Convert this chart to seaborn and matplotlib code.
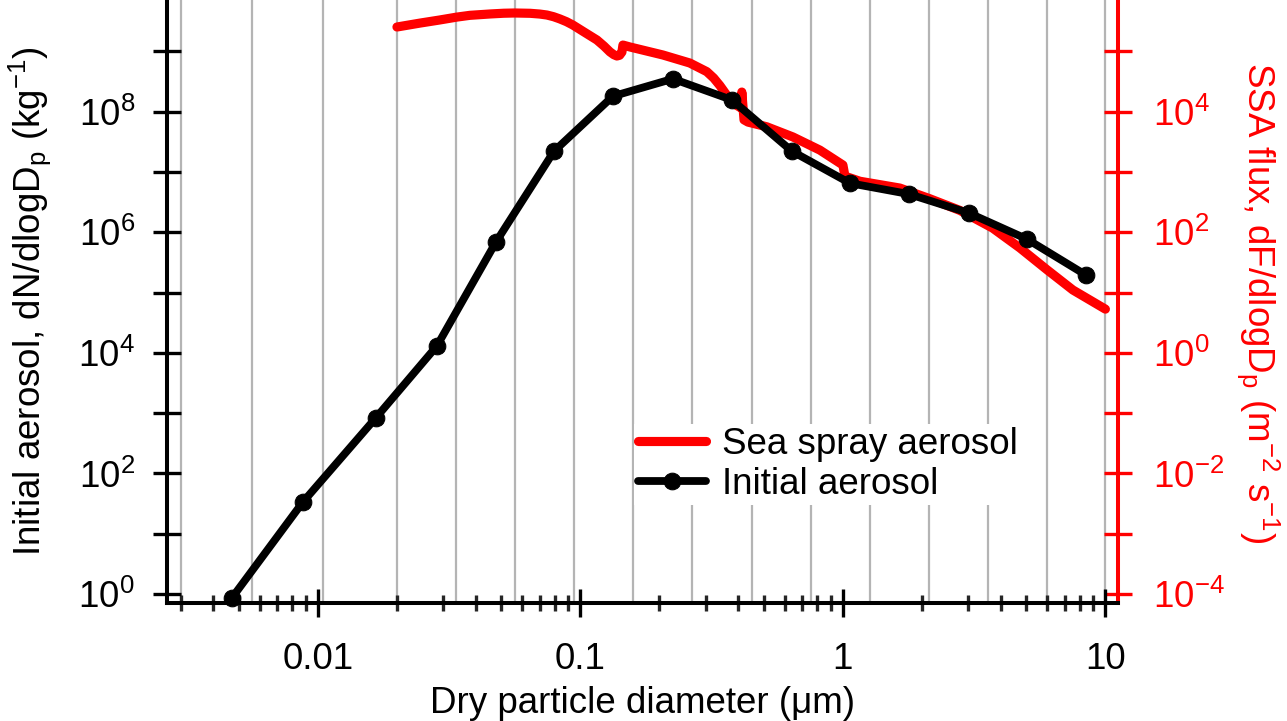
import pandas as pd
import seaborn as sns
import matplotlib.pyplot as plt
from matplotlib.ticker import LogLocator, NullFormatter, FixedLocator, FixedFormatter

# Initial aerosol size distribution (left axis)
init_diam = [0.0047, 0.00877, 0.0166, 0.0284, 0.0477, 0.0793, 0.133, 0.225,
             0.378, 0.640, 1.064, 1.78, 3.02, 5.02, 8.43]
init_conc = [0.86, 33.6, 830, 1.3e4, 6.9e5, 2.2e7, 1.8e8, 3.5e8,
             1.56e8, 2.2e7, 6.5e6, 4.3e6, 2.08e6, 7.7e5, 1.95e5]

# Sea spray aerosol flux (right axis)
ssa_diam = [0.0200, 0.0245, 0.0290, 0.0339, 0.0379, 0.0452, 0.0510, 0.0562,
            0.0644, 0.0700, 0.0745, 0.0790, 0.0834, 0.0885, 0.0936, 0.104,
            0.1156, 0.1230, 0.1295, 0.1340, 0.1377, 0.1410, 0.1439,
            0.1452, 0.1544, 0.206, 0.261, 0.303, 0.322, 0.340, 0.365, 0.388, 0.409,
            0.412, 0.420, 0.435, 0.513, 0.645, 0.817, 1.0, 1.018, 1.161,
            1.648, 2.14, 2.79, 3.72, 4.72, 5.98, 7.52, 10.0]
ssa_flux = [2.53e5, 2.94e5, 3.3e5, 3.70e5, 3.95e5, 4.16e5, 4.28e5, 4.32e5,
            4.27e5, 4.15e5, 4.0e5, 3.75e5, 3.45e5, 3.1e5, 2.73e5, 2.05e5,
            1.54e5, 1.22e5, 9.8e4, 8.8e4, 8.36e4, 8.6e4, 9.7e4,
            1.27e5, 1.18e5, 8.7e4, 6.4e4, 4.6e4, 3.6e4, 2.7e4, 1.75e4, 1.32e4, 1.15e4,
            2.11e4, 7.3e3, 6.7e3, 5.6e3, 3.8e3, 2.3e3, 1.3e3, 8.5e2, 7.0e2,
            5.4e2, 3.6e2, 2.3e2, 1.17e2, 55, 24, 11, 5.3]

# vertical grid lines (size bin edges)
grid_diam = [0.003, 0.0056, 0.0105, 0.02, 0.0336, 0.0564, 0.0947, 0.159,
             0.267, 0.449, 0.754, 1.27, 2.13, 3.57, 5.99, 10.0]

x_ticks = [0.01, 0.1, 1, 10]
x_ticklabels = ['0.01', '0.1', '1', '10']
left_major = [1e0, 1e2, 1e4, 1e6, 1e8]
left_minor = [1e1, 1e3, 1e5, 1e7, 1e9]
left_labels = [r'$\mathregular{10^{%d}}$' % p for p in [0, 2, 4, 6, 8]]
right_major = [1e-4, 1e-2, 1e0, 1e2, 1e4]
right_minor = [1e-3, 1e-1, 1e1, 1e3, 1e5]
right_labels = [r'$\mathregular{10^{%d}}$' % p for p in [-4, -2, 0, 2, 4]]

init_df = pd.DataFrame({'diam': init_diam, 'conc': init_conc})
ssa_df = pd.DataFrame({'diam': ssa_diam, 'flux': ssa_flux})

sns.set_theme(style='white')
plt.rcParams['font.family'] = ['Liberation Sans', 'DejaVu Sans']
plt.rcParams['mathtext.fontset'] = 'custom'
plt.rcParams['mathtext.rm'] = 'Liberation Sans'
plt.rcParams['mathtext.it'] = 'Liberation Sans:italic'
plt.rcParams['text.color'] = 'black'
plt.rcParams['axes.labelcolor'] = 'black'

fs = 26.5
red = '#ff0000'

fig = plt.figure(figsize=(12.87, 7.21), dpi=100)
ax = fig.add_axes([167 / 1287, 118 / 721, 951 / 1287, 603 / 721])
ax.set_xscale('log')
ax.set_yscale('log')
ax2 = ax.twinx()
ax2.set_yscale('log')

# grid + red curve on the back axes
for g in grid_diam:
    ax2.axvline(g, color='#b4b4b4', lw=1.6, zorder=0)
sns.lineplot(data=ssa_df, x='diam', y='flux', ax=ax2, color=red, lw=6.6,
             sort=False, estimator=None, legend=False, label='Sea spray aerosol',
             solid_joinstyle='round', zorder=2)

# black curve on the front axes
sns.lineplot(data=init_df, x='diam', y='conc', ax=ax, color='black', lw=5.6,
             marker='o', markersize=12, markeredgecolor='black',
             sort=False, estimator=None, legend=False, label='Initial aerosol',
             clip_on=False, zorder=3)

ax.set_zorder(ax2.get_zorder() + 1)
ax.patch.set_visible(False)

ax.set_xlim(10 ** -2.575, 10 ** 1.048)
ylo, yhi = 10 ** -0.149, 10 ** 9.851
ax.set_ylim(ylo, yhi)
ax2.set_ylim(ylo * 1e-4, yhi * 1e-4)

# x axis
ax.xaxis.set_major_locator(FixedLocator(x_ticks))
ax.xaxis.set_major_formatter(FixedFormatter(x_ticklabels))
ax.xaxis.set_minor_locator(LogLocator(base=10, subs=[2, 3, 4, 5, 6, 7, 8, 9], numticks=20))
ax.xaxis.set_minor_formatter(NullFormatter())
ax.tick_params(axis='x', which='major', direction='inout', length=20, width=2.4,
               pad=18, labelsize=fs, colors='black', bottom=True)
ax.tick_params(axis='x', which='minor', direction='inout', length=12, width=2.4,
               bottom=True)

# left y axis
ax.yaxis.set_major_locator(FixedLocator(left_major))
ax.yaxis.set_major_formatter(FixedFormatter(left_labels))
ax.yaxis.set_minor_locator(FixedLocator(left_minor))
ax.yaxis.set_minor_formatter(NullFormatter())
ax.tick_params(axis='y', which='both', direction='inout', length=20, width=2.4,
               pad=13, labelsize=fs, colors='black', left=True, right=False)

# right y axis
ax2.yaxis.set_major_locator(FixedLocator(right_major))
ax2.yaxis.set_major_formatter(FixedFormatter(right_labels))
ax2.yaxis.set_minor_locator(FixedLocator(right_minor))
ax2.yaxis.set_minor_formatter(NullFormatter())
ax2.tick_params(axis='y', which='both', direction='inout', length=20, width=2.4,
                pad=15, labelsize=fs, colors=red, right=True, left=False)

for s in ['top', 'right']:
    ax.spines[s].set_visible(False)
for s in ['left', 'bottom']:
    ax.spines[s].set_color('black')
    ax.spines[s].set_linewidth(2.9)
for s in ['top', 'left', 'bottom']:
    ax2.spines[s].set_visible(False)
ax2.spines['right'].set_color(red)
ax2.spines['right'].set_linewidth(2.9)

ax.set_xlabel('Dry particle diameter (\u03bcm)', fontsize=fs, color='black', va='top')
ax.xaxis.set_label_coords(0.5, -0.137)
ax.set_ylabel(r'Initial aerosol, dN/dlogD$\mathregular{_p}$ (kg$\mathregular{^{-1}}$)',
              fontsize=fs, color='black', va='center')
ax.yaxis.set_label_coords((30 - 167) / 951, (603 - 301) / 603)
ax2.set_ylabel(r'SSA flux, dF/dlogD$\mathregular{_p}$ (m$\mathregular{^{-2}}$ s$\mathregular{^{-1}}$)',
               fontsize=fs, color=red, rotation=-90, va='center')
ax2.yaxis.set_label_coords((1258 - 167) / 951, (603 - 303) / 603)

handles = ax2.get_lines()[-1:] + ax.get_lines()[-1:]
leg = ax.legend(handles, ['Sea spray aerosol', 'Initial aerosol'], loc='center',
                bbox_to_anchor=(828 / 1287, 1 - 464.5 / 721), bbox_transform=fig.transFigure,
                fontsize=fs, frameon=True, framealpha=1, facecolor='white',
                edgecolor='none', fancybox=False, handlelength=1.85,
                handletextpad=0.45, labelspacing=0.12, borderpad=0.1,
                borderaxespad=0, labelcolor='black')
leg.set_zorder(10)

fig.savefig('out.png', dpi=100)
